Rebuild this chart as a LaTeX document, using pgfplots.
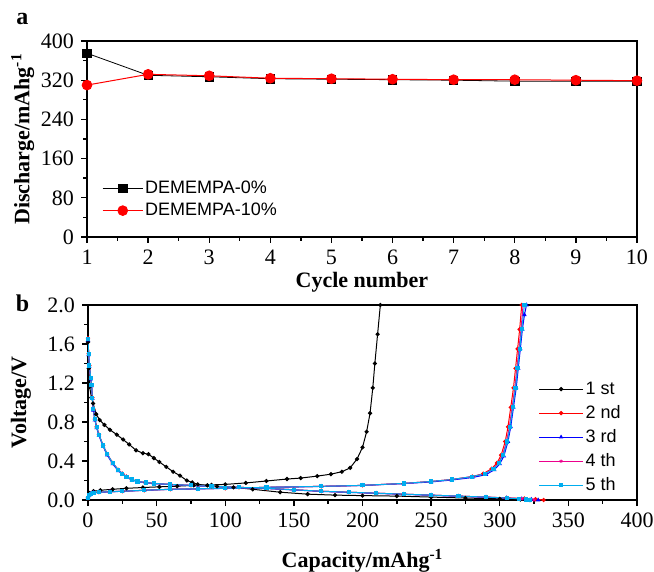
\documentclass[border=0pt]{standalone}
\usepackage{fontspec}
\setmainfont{Liberation Serif}
\newfontfamily\arial{Liberation Sans}
\usepackage{pgfplots}
\pgfplotsset{compat=1.18}

\pgfplotsset{
  panel/.style={
    scale only axis, anchor=south west,
    axis line style={line width=0.9pt},
    tick align=outside, xtick pos=bottom, ytick pos=left,
    major tick length=3pt, minor tick length=1.8pt,
    tick style={line width=0.7pt, black},
    tick label style={font=\fontsize{11}{12}\selectfont},
    label style={font=\bfseries\fontsize{11}{12}\selectfont},
    /pgf/number format/assume math mode=true,
    legend cell align=left,
  },
}

\begin{document}
\begin{tikzpicture}
\useasboundingbox (0,0) rectangle (327pt,-286pt);

\node[font=\bfseries\fontsize{12}{12}\selectfont] at (11.25pt,-9.5pt) {a};
\node[font=\bfseries\fontsize{12}{12}\selectfont] at (11.25pt,-151.5pt) {b};

% panel a: discharge capacity vs cycle
\begin{axis}[panel,
    at={(43.5pt,-118.5pt)}, width=275pt, height=98pt,
    xmin=1, xmax=10, ymin=0, ymax=400,
    xtick={1,2,3,4,5,6,7,8,9,10}, ytick={0,80,160,240,320,400},
    minor x tick num=1, minor y tick num=1,
    xlabel={Cycle number}, ylabel={Discharge/mAhg\textsuperscript{-1}},
    xlabel style={at={(axis description cs:0.5,-0.23)}, anchor=center},
    ylabel style={at={(axis description cs:-0.117,0.5)}, anchor=center},
    legend style={draw=none, fill=none, inner sep=0pt,
      at={(axis description cs:0.027,0.305)}, anchor=north west,
      font=\arial\fontsize{9}{11}\selectfont,
      nodes={inner sep=1pt, text height=7pt, text depth=2pt}},
    legend image code/.code={\draw[mark repeat=2,mark phase=2] plot coordinates {(0pt,0pt)(10pt,0pt)(20pt,0pt)};},
]
\addplot[black, line width=0.4pt, mark=square*, mark size=2.1pt] coordinates {
  (1,375)(2,330)(3,327)(4,323)(5,322)(6,321)(7,320)(8,318)(9,318)(10,318)};
\addplot[red, line width=0.5pt, mark=*, mark size=2.4pt] coordinates {
  (1,310)(2,332)(3,329)(4,324)(5,323)(6,322)(7,321)(8,321)(9,320)(10,319)};
\legend{DEMEMPA-0\%, DEMEMPA-10\%}
\end{axis}

% panel b: voltage profiles
\begin{axis}[panel,
    at={(44pt,-250pt)}, width=274.5pt, height=97.5pt,
    xmin=0, xmax=400, ymin=0, ymax=2,
    xtick={0,50,100,150,200,250,300,350,400}, ytick={0,0.4,0.8,1.2,1.6,2.0},
    minor x tick num=1, minor y tick num=1,
    yticklabel style={/pgf/number format/.cd, fixed, fixed zerofill, precision=1},
    xlabel={Capacity/mAhg\textsuperscript{-1}}, ylabel={Voltage/V},
    xlabel style={at={(axis description cs:0.5,-0.31)}, anchor=center},
    ylabel style={at={(axis description cs:-0.122,0.5)}, anchor=center},
    legend style={draw=none, fill=none, inner sep=0pt,
      at={(axis description cs:0.82,0.627)}, anchor=north west,
      font=\arial\fontsize{9}{11}\selectfont,
      nodes={inner sep=1pt, text height=7pt, text depth=2pt}, row sep=1pt},
    legend image code/.code={\draw[mark repeat=2,mark phase=2] plot coordinates {(0pt,0pt)(11pt,0pt)(22pt,0pt)};},
    every axis plot/.append style={line width=0.5pt, mark size=0.8pt},
]
% 1st cycle
\addplot[black, mark=*] coordinates {
  (0,1.62)(0.5,1.35)(1.2,1.16)(2.5,1.05)(3.7,0.99)(6,0.88)(8.5,0.82)(12,0.77)(16,0.72)
  (21,0.67)(25.6,0.62)(30,0.57)(35,0.51)(40,0.48)(44,0.47)(48,0.43)(52,0.39)(57,0.34)
  (62,0.29)(67,0.25)(72,0.2)(76,0.18)(80,0.16)(87,0.15)(94,0.14)(106,0.13)(120,0.11)
  (140,0.08)(160,0.06)(180,0.05)(200,0.045)(225,0.04)(250,0.03)(275,0.02)(300,0.012)
  (315,0.005)(322,0)};
\addplot[black, mark=*, forget plot] coordinates {
  (0,0.03)(1,0.07)(4,0.09)(9,0.1)(18,0.11)(28,0.12)(40,0.128)(52,0.135)(65,0.142)(77,0.15)
  (90,0.155)(100,0.16)(115,0.175)(130,0.195)(145,0.215)(155,0.225)(167,0.245)(177,0.265)
  (185,0.29)(191,0.33)(196,0.42)(200,0.54)(203,0.7)(205.5,0.89)(207.5,1.15)(209,1.4)
  (211,1.7)(213,2.0)};
% 2nd cycle
\addplot[red, mark=*] coordinates {
  (0,1.66)(0.5,1.5)(1,1.38)(2,1.25)(2.6,1.18)(3.2,1.05)(3.9,0.93)(5,0.83)(6.3,0.75)
  (8,0.67)(11,0.56)(14,0.47)(18,0.38)(22,0.31)(25,0.27)(28,0.24)(32,0.21)(36,0.19)
  (42,0.18)(48,0.17)(60,0.16)(75,0.15)(90,0.14)(110,0.13)(130,0.12)(150,0.105)
  (170,0.09)(190,0.08)(210,0.07)(230,0.06)(250,0.05)(270,0.04)(290,0.03)(305,0.022)
  (318,0.015)(326,0.008)(332,0)};
\addplot[red, mark=*, forget plot] coordinates {
  (0,0.02)(1,0.05)(2,0.065)(4,0.075)(8,0.08)(16,0.085)(25,0.09)(41,0.1)(60,0.11)
  (80,0.115)(100,0.12)(130,0.13)(170,0.14)(200,0.15)(230,0.17)(250,0.19)(265,0.21)
  (280,0.24)(288,0.27)(294,0.32)(298,0.38)(301,0.46)(304,0.6)(306,0.75)(308,0.95)
  (310,1.15)(311.5,1.35)(313,1.55)(314.5,1.75)(316,2.0)};
% 3rd cycle
\addplot[blue, mark=triangle*] coordinates {
  (0,1.64)(0.5,1.49)(1,1.37)(2,1.24)(2.6,1.17)(3.2,1.04)(3.9,0.92)(5,0.82)(6.3,0.74)
  (8,0.66)(11,0.55)(14,0.46)(18,0.37)(22,0.3)(25,0.265)(28,0.235)(32,0.205)(36,0.188)
  (42,0.178)(48,0.168)(60,0.158)(75,0.148)(90,0.138)(110,0.128)(130,0.118)(150,0.103)
  (170,0.088)(190,0.078)(210,0.068)(230,0.058)(250,0.048)(270,0.038)(290,0.028)(305,0.02)
  (316,0.012)(323,0.006)(328,0)};
\addplot[blue, mark=triangle*, forget plot] coordinates {
  (0,0.02)(1,0.05)(2,0.064)(4,0.074)(8,0.079)(16,0.084)(25,0.089)(41,0.099)(60,0.109)
  (80,0.114)(100,0.119)(130,0.129)(170,0.139)(200,0.149)(230,0.168)(250,0.185)(265,0.205)
  (280,0.23)(290,0.26)(296,0.31)(300,0.37)(303,0.45)(306,0.6)(308,0.75)(310,0.95)
  (312,1.15)(313.5,1.35)(315,1.55)(316.5,1.75)(318,1.9)(319.5,2.0)};
% 4th cycle
\addplot[magenta, mark=star] coordinates {
  (0,1.65)(0.5,1.5)(1,1.38)(2,1.25)(2.6,1.18)(3.2,1.05)(3.9,0.93)(5,0.83)(6.3,0.75)
  (8,0.67)(11,0.56)(14,0.47)(18,0.38)(22,0.31)(25,0.27)(28,0.24)(32,0.21)(36,0.19)
  (42,0.18)(48,0.17)(60,0.16)(75,0.15)(90,0.14)(110,0.13)(130,0.12)(150,0.105)
  (170,0.09)(190,0.08)(210,0.07)(230,0.06)(250,0.05)(270,0.04)(290,0.03)(305,0.021)
  (316,0.012)(322,0.006)(325,0)};
\addplot[magenta, mark=star, forget plot] coordinates {
  (0,0.02)(1,0.05)(2,0.065)(4,0.075)(8,0.08)(16,0.085)(25,0.09)(41,0.1)(60,0.11)
  (80,0.115)(100,0.12)(130,0.13)(170,0.14)(200,0.15)(230,0.17)(250,0.19)(265,0.21)
  (280,0.24)(289,0.27)(295,0.32)(299,0.38)(302,0.46)(305,0.6)(307,0.75)(309,0.95)
  (311,1.15)(312.5,1.35)(314,1.55)(315.5,1.75)(317,2.0)};
% 5th cycle
\addplot[cyan, mark=square*] coordinates {
  (0,1.65)(0.5,1.5)(1,1.38)(2,1.25)(2.6,1.18)(3.2,1.05)(3.9,0.93)(5,0.83)(6.3,0.75)
  (8,0.67)(11,0.56)(14,0.47)(18,0.38)(22,0.31)(25,0.27)(28,0.24)(32,0.21)(36,0.19)
  (42,0.18)(48,0.17)(60,0.16)(75,0.15)(90,0.14)(110,0.13)(130,0.12)(150,0.105)
  (170,0.09)(190,0.08)(210,0.07)(230,0.06)(250,0.05)(270,0.04)(290,0.03)(305,0.02)
  (314,0.012)(319,0.005)(322,0)};
\addplot[cyan, mark=square*, forget plot] coordinates {
  (0,0.02)(1,0.05)(2,0.065)(4,0.075)(8,0.08)(16,0.085)(25,0.09)(41,0.1)(60,0.11)
  (80,0.115)(100,0.12)(130,0.13)(170,0.14)(200,0.15)(230,0.17)(250,0.19)(265,0.21)
  (280,0.24)(289.5,0.27)(295.5,0.32)(299.5,0.38)(302.5,0.46)(305.5,0.6)(307.5,0.75)
  (309.5,0.95)(311.5,1.15)(313,1.35)(314.5,1.55)(316,1.75)(318,2.0)};
\legend{1 st, 2 nd, 3 rd, 4 th, 5 th}
\end{axis}
\end{tikzpicture}
\end{document}
